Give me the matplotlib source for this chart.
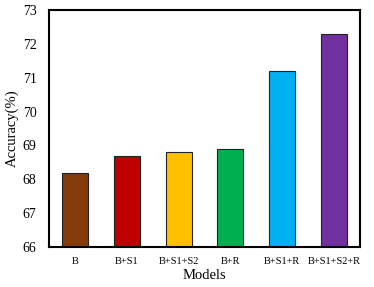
import matplotlib
matplotlib.use("Agg")
import matplotlib.pyplot as plt

models = ["B", "B+S1", "B+S1+S2", "B+R", "B+S1+R", "B+S1+S2+R"]
accuracy = [68.2, 68.7, 68.8, 68.9, 71.2, 72.3]
colors = ["#843C0C", "#C00000", "#FFC000", "#00B050", "#00B0F0", "#7030A0"]
yticks = [66, 67, 68, 69, 70, 71, 72, 73]

plt.rcParams["font.family"] = ["Liberation Serif", "DejaVu Serif"]

fig = plt.figure(figsize=(3.74, 2.87), dpi=100)
ax = fig.add_axes([49 / 374, 1 - 247 / 287, 311 / 374, 237 / 287])

ax.bar(range(len(models)), accuracy, width=0.5, color=colors,
       edgecolor="#222222", linewidth=0.8, bottom=0)
ax.set_xlim(-0.5, len(models) - 0.5)
ax.set_ylim(66, 73)
ax.set_yticks(yticks)
ax.set_xticks(range(len(models)))
ax.set_xticklabels(models, fontsize=7.5)
ax.tick_params(axis="y", labelsize=10, length=0, pad=9)
ax.tick_params(axis="x", length=0, pad=7)
for s in ax.spines.values():
    s.set_linewidth(1.5)
ax.set_xlabel("Models", fontsize=10.5, labelpad=2.5)
ax.set_ylabel("Accuracy(%)", fontsize=10.5, labelpad=3)

fig.savefig("out.png", dpi=100)
